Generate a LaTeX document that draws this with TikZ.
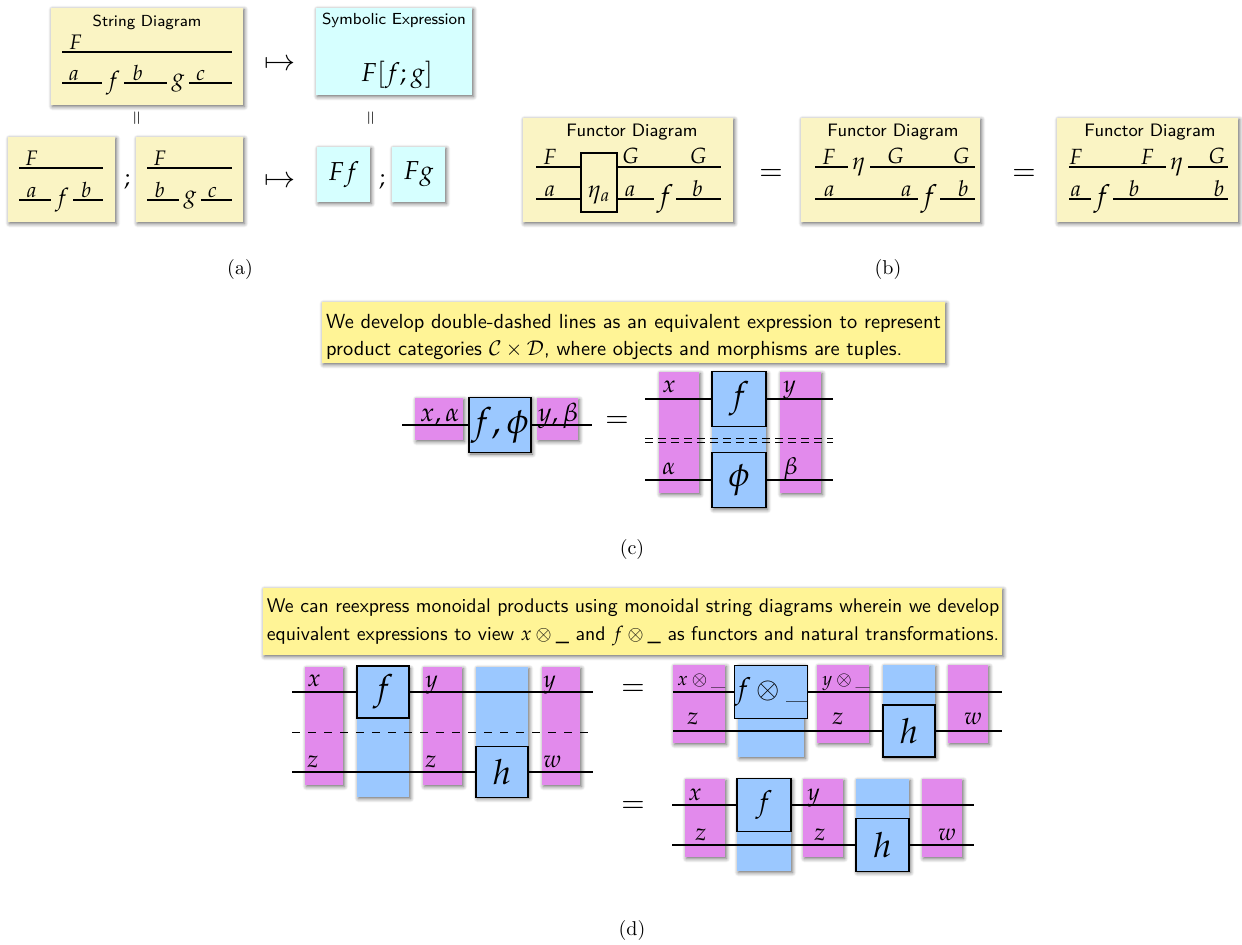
\documentclass[tikz,border=0pt]{standalone}
\usepackage{mathpazo}
\renewcommand{\rmdefault}{lmr}
\usetikzlibrary{shadows,shadows.blur}

\definecolor{panelyellow}{RGB}{250,244,196}
\definecolor{exprcyan}{RGB}{214,255,255}
\definecolor{noteyellow}{RGB}{255,244,150}
\definecolor{objpink}{RGB}{226,138,236}
\definecolor{morblue}{RGB}{155,200,255}

\tikzstyle{boxshadow} = [blur shadow={shadow xshift=.7pt, shadow yshift=-.8pt, shadow blur radius=2pt, shadow blur steps=6, shadow opacity=60}]
\tikzstyle{panel} = [rectangle, inner sep=0pt, fill=panelyellow, boxshadow]
\tikzstyle{expr} = [rectangle, inner sep=0pt, fill=exprcyan, boxshadow, font=\fontsize{13}{15}\selectfont]
\tikzstyle{note} = [rectangle, inner sep=0pt, fill=noteyellow, boxshadow]
\tikzstyle{notetext} = [inner sep=0pt, align=left]
\tikzstyle{obj} = [rectangle, inner sep=0pt, fill=objpink, boxshadow]
\tikzstyle{morcol} = [rectangle, inner sep=0pt, fill=morblue, boxshadow]
\tikzstyle{mor} = [rectangle, inner sep=0pt, fill=morblue, draw=black, line width=.75pt]
\tikzstyle{gen} = [inner sep=0pt, minimum width=11pt, font=\large]
\tikzstyle{lbl} = [above, inner sep=1pt, font=\fontsize{10.5}{12}\selectfont]
\tikzstyle{lblb} = [above, inner sep=1pt, font=\fontsize{11}{13}\selectfont]
\tikzstyle{tag} = [anchor=base, inner sep=0pt, font=\large]
\tikzstyle{wire} = [line width=.6pt]
\tikzstyle{dwire} = [line width=.5pt, dash pattern=on 4pt off 2.5pt]
\tikzstyle{heading} = [font=\sffamily\footnotesize]
\tikzstyle{op} = [font=\Large]

\begin{document}
\begin{tikzpicture}[x=.5pt, y=-.5pt]
\useasboundingbox (0,0) rectangle (1242,945);

%(a) String diagram
\node (SD) [panel, minimum width=96pt, minimum height=48.5pt] at (147,56.5) {};
\node [heading] at (147,22) {String Diagram};
\coordinate (SD-F0) at (62,52);
\coordinate (SD-F1) at (232,52);
\coordinate (SD-a) at (62,83);
\coordinate (SD-c) at (232,83);
\node (SD-f) [gen] at (113,83) {$f$};
\node (SD-g) [gen, minimum width=10.5pt] at (178,83) {$g$};
\draw [wire] (SD-F0) -- node[lbl,pos=.08] {$F$} (SD-F1);
\draw [wire] (SD-a) -- node[lbl,pos=.3] {$a$} (SD-f);
\draw [wire] (SD-f) -- node[lbl,pos=.31] {$b$} (SD-g);
\draw [wire] (SD-g) -- node[lbl,pos=.27] {$c$} (SD-c);

%Symbolic expression
\node (SE) [expr, minimum width=78pt, minimum height=43.5pt] at (394,51.5) {};
\node [heading] at (394,20) {Symbolic Expression};
\node (SE-t) [font=\fontsize{13}{15}\selectfont] at (397,75) {$F[f;g]$};
\node (map1) [op] at (280,65) {$\mapsto$};
\node [rotate=90, font=\small] at (138,118) {$=$};
\node [rotate=90, font=\small] at (372,118) {$=$};

%split into two pieces
\node (SD1) [panel, minimum width=53.5pt, minimum height=42.5pt] at (61.5,179.5) {};
\coordinate (SD1-F0) at (19,168);
\coordinate (SD1-F1) at (103,168);
\coordinate (SD1-a) at (19,200);
\coordinate (SD1-b) at (103,200);
\node (SD1-f) [gen] at (62,200) {$f$};
\draw [wire] (SD1-F0) -- node[lbl,pos=.15] {$F$} (SD1-F1);
\draw [wire] (SD1-a) -- node[lbl,pos=.4] {$a$} (SD1-f);
\draw [wire] (SD1-f) -- node[lbl,pos=.43] {$b$} (SD1-b);

\node [font=\large] at (127,182) {$;$};

\node (SD2) [panel, minimum width=53.5pt, minimum height=42.5pt] at (189.5,179.5) {};
\coordinate (SD2-F0) at (147,168);
\coordinate (SD2-F1) at (232,168);
\coordinate (SD2-b) at (147,200);
\coordinate (SD2-c) at (232,200);
\node (SD2-g) [gen, minimum width=10.5pt] at (190,200) {$g$};
\draw [wire] (SD2-F0) -- node[lbl,pos=.15] {$F$} (SD2-F1);
\draw [wire] (SD2-b) -- node[lbl,pos=.4] {$b$} (SD2-g);
\draw [wire] (SD2-g) -- node[lbl,pos=.37] {$c$} (SD2-c);

\node (map2) [op] at (280,182) {$\mapsto$};
\node (SE1) [expr, minimum width=26.5pt, minimum height=27.5pt] at (343.5,174.5) {$Ff$};
\node [font=\large] at (382,182) {$;$};
\node (SE2) [expr, minimum width=26.5pt, minimum height=27.5pt] at (418.5,174.5) {$Fg$};
\node at (240,270) {(a)};

%(b) Functor diagrams
\node (FD1) [panel, minimum width=105pt, minimum height=52pt] at (628,170) {};
\node [heading, font=\sffamily\small] at (632,132) {Functor Diagram};
\node (FD1-eta) [draw=black, line width=.6pt, minimum width=18pt, minimum height=29.5pt, inner sep=0pt] at (599,182.5) {};
\node [font=\large] at (599,195) {$\eta_a$};
\coordinate (FD1-F) at (536,167);
\coordinate (FD1-G) at (721,167);
\coordinate (FD1-a) at (536,199);
\coordinate (FD1-b) at (721,199);
\node (FD1-f) [gen, font=\Large] at (665,199) {$f$};
\draw [wire] (FD1-F) -- node[lblb,pos=.31] {$F$} (FD1-eta.west |- FD1-F);
\draw [wire] (FD1-eta.east |- FD1-G) -- node[lblb,pos=.125] {$G$} node[lblb,pos=.78] {$G$} (FD1-G);
\draw [wire] (FD1-a) -- node[lblb,pos=.31] {$a$} (FD1-eta.west |- FD1-a);
\draw [wire] (FD1-eta.east |- FD1-a) -- node[lblb,pos=.35] {$a$} (FD1-f);
\draw [wire] (FD1-f) -- node[lblb,pos=.47] {$b$} (FD1-b);

\node [op] at (771,175) {$=$};

\node (FD2) [panel, minimum width=89.5pt, minimum height=52pt] at (890.5,170) {};
\node [heading, font=\sffamily\small] at (893,132) {Functor Diagram};
\coordinate (FD2-F) at (815,167);
\coordinate (FD2-G) at (975,167);
\coordinate (FD2-a) at (815,199);
\coordinate (FD2-b) at (975,199);
\node (FD2-eta) [gen] at (859,167) {$\eta$};
\node (FD2-f) [gen, font=\Large] at (929,199) {$f$};
\draw [wire] (FD2-F) -- node[lblb,pos=.42] {$F$} (FD2-eta);
\draw [wire] (FD2-eta) -- node[lblb,pos=.24] {$G$} node[lblb,pos=.87] {$G$} (FD2-G);
\draw [wire] (FD2-a) -- node[lblb,pos=.14] {$a$} node[lblb,pos=.89] {$a$} (FD2-f);
\draw [wire] (FD2-f) -- node[lblb,pos=.66] {$b$} (FD2-b);

\node [op] at (1024,175) {$=$};

\node (FD3) [panel, minimum width=90.5pt, minimum height=52pt] at (1147.5,170) {};
\node [heading, font=\sffamily\small] at (1150,132) {Functor Diagram};
\coordinate (FD3-F) at (1069,167);
\coordinate (FD3-G) at (1228,167);
\coordinate (FD3-a) at (1069,199);
\coordinate (FD3-b) at (1228,199);
\node (FD3-eta) [gen] at (1177,167) {$\eta$};
\node (FD3-f) [gen, font=\Large] at (1102,199) {$f$};
\draw [wire] (FD3-F) -- node[lblb,pos=.07] {$F$} node[lblb,pos=.81] {$F$} (FD3-eta);
\draw [wire] (FD3-eta) -- node[lblb,pos=.72] {$G$} (FD3-G);
\draw [wire] (FD3-a) -- node[lblb,pos=.32] {$a$} (FD3-f);
\draw [wire] (FD3-f) -- node[lblb,pos=.18] {$b$} node[lblb,pos=.92] {$b$} (FD3-b);
\node at (888,270) {(b)};

%(c) Product categories
\node (NC) [note, minimum width=311.5pt, minimum height=30.5pt] at (633.5,332.5) {};
\node (NC-t) [notetext, font=\sffamily\fontsize{10.2}{13.5}\selectfont] at (633.5,337)
  {We develop double-dashed lines as an equivalent expression to represent\\
   product categories $\mathcal{C}\times\mathcal{D}$, where objects and morphisms are tuples.};

\node (C-xa) [obj, minimum width=24pt, minimum height=21pt] at (439,419) {};
\node (C-yb) [obj, minimum width=20.5pt, minimum height=21pt] at (557.5,419) {};
\node (C-fphi) [mor, boxshadow, minimum width=31pt, minimum height=27.5pt, font=\fontsize{18}{20}\selectfont] at (500,425) {$f,\phi$};
\coordinate (C-in) at (402,425);
\coordinate (C-out) at (592,425);
\draw [wire] (C-in) -- (C-fphi) -- (C-out);
\node [tag, font=\fontsize{13}{15}\selectfont] at (440,422) {$x,\alpha$};
\node [tag, font=\fontsize{13}{15}\selectfont] at (558,422) {$y,\beta$};

\node [op] at (617,422) {$=$};

\node (CR-x) [obj, minimum width=20pt, minimum height=60.5pt] at (679,432.5) {};
\node (CR-y) [obj, minimum width=20.5pt, minimum height=60.5pt] at (800.5,432.5) {};
\node (CR-col) [morcol, minimum width=27pt, minimum height=68pt] at (739,440) {};
\node (CR-f) [mor, minimum width=27pt, minimum height=27.5pt, font=\LARGE] at (739,399) {$f$};
\node (CR-phi) [mor, minimum width=27pt, minimum height=27.5pt, font=\LARGE] at (739,480) {$\phi$};
\coordinate (CR-x0) at (645,399);
\coordinate (CR-x1) at (833,399);
\coordinate (CR-a0) at (645,480);
\coordinate (CR-a1) at (833,480);
\coordinate (CR-d0) at (645,438.5);
\coordinate (CR-d1) at (833,438.5);
\coordinate (CR-e0) at (645,442.5);
\coordinate (CR-e1) at (833,442.5);
\draw [wire] (CR-x0) -- (CR-f) -- (CR-x1);
\draw [wire] (CR-a0) -- (CR-phi) -- (CR-a1);
\draw [dwire] (CR-d0) -- (CR-d1);
\draw [dwire] (CR-e0) -- (CR-e1);
\node [tag, anchor=base west] at (662,393) {$x$};
\node [tag, anchor=base west] at (662,475) {$\alpha$};
\node [tag, anchor=base west] at (783,393) {$y$};
\node [tag, anchor=base west] at (783,475) {$\beta$};
\node at (632,550) {(c)};

%(d) Monoidal products
\node (ND) [note, minimum width=369.5pt, minimum height=33.5pt] at (632.5,621.5) {};
\node (ND-t) [notetext, font=\sffamily\fontsize{9.9}{14}\selectfont] at (633,622)
  {We can reexpress monoidal products using monoidal string diagrams wherein we develop\\
   equivalent expressions to view $x\otimes\_$ and $f\otimes\_$ as functors and natural transformations.};

\node (DL-1) [obj, minimum width=19pt, minimum height=59pt] at (324,726) {};
\node (DL-2) [morcol, minimum width=26pt, minimum height=65pt] at (383,732) {};
\node (DL-3) [obj, minimum width=19.5pt, minimum height=59pt] at (442.5,726) {};
\node (DL-4) [morcol, minimum width=26pt, minimum height=65pt] at (502,732) {};
\node (DL-5) [obj, minimum width=19pt, minimum height=59pt] at (561,726) {};
\node (DL-f) [mor, minimum width=26pt, minimum height=26pt, font=\LARGE] at (383,692) {$f$};
\node (DL-h) [mor, minimum width=26pt, minimum height=25.5pt, font=\LARGE] at (502,772) {$h$};
\coordinate (DL-u0) at (292,692);
\coordinate (DL-u1) at (593,692);
\coordinate (DL-l0) at (292,772);
\coordinate (DL-l1) at (593,772);
\coordinate (DL-d0) at (292,732);
\coordinate (DL-d1) at (593,732);
\draw [wire] (DL-u0) -- (DL-f) -- (DL-u1);
\draw [wire] (DL-l0) -- (DL-h) -- (DL-l1);
\draw [line width=.45pt, dash pattern=on 4pt off 4pt] (DL-d0) -- (DL-d1);
\node [tag, anchor=base west] at (307,687) {$x$};
\node [tag, anchor=base west] at (307,768) {$z$};
\node [tag, anchor=base west] at (425,688) {$y$};
\node [tag, anchor=base west] at (425,768) {$z$};
\node [tag, anchor=base west] at (543,688) {$y$};
\node [tag, anchor=base west] at (543,768) {$w$};

\node [op] at (633,690) {$=$};

\node (R1-1) [obj, minimum width=26pt, minimum height=39pt] at (699,704) {};
\node (R1-2) [morcol, minimum width=33pt, minimum height=46pt] at (771,711) {};
\node (R1-3) [obj, minimum width=26pt, minimum height=39pt] at (843,704) {};
\node (R1-4) [morcol, minimum width=26pt, minimum height=46pt] at (909,711) {};
\node (R1-5) [obj, minimum width=20pt, minimum height=39pt] at (968,704) {};
\node (R1-f) [mor, minimum width=33pt, minimum height=26.5pt, font=\Large] at (771,692) {$f\otimes\_$};
\node (R1-h) [mor, minimum width=26pt, minimum height=26pt, font=\LARGE] at (909,731) {$h$};
\coordinate (R1-u0) at (673,692);
\coordinate (R1-u1) at (1002,692);
\coordinate (R1-l0) at (673,731);
\coordinate (R1-l1) at (1002,731);
\draw [wire] (R1-u0) -- (R1-f) -- (R1-u1);
\draw [wire] (R1-l0) -- (R1-h) -- (R1-l1);
\node [tag, anchor=base west, font=\fontsize{9.5}{11}\selectfont] at (677,686) {$x\otimes\_$};
\node [tag] at (693,725) {$z$};
\node [tag, anchor=base west, font=\fontsize{9.5}{11}\selectfont] at (822,686) {$y\otimes\_$};
\node [tag] at (838,725) {$z$};
\node [tag] at (973,725) {$w$};

\node [op] at (633,807) {$=$};

\node (R2-1) [obj, minimum width=20pt, minimum height=39pt] at (705,818) {};
\node (R2-2) [morcol, minimum width=27pt, minimum height=46pt] at (764,825) {};
\node (R2-3) [obj, minimum width=20pt, minimum height=39pt] at (823,818) {};
\node (R2-4) [morcol, minimum width=26.5pt, minimum height=46pt] at (882.5,825) {};
\node (R2-5) [obj, minimum width=20pt, minimum height=39pt] at (942,818) {};
\node (R2-f) [mor, minimum width=27pt, minimum height=26.5pt, font=\Large] at (764,805) {$f$};
\node (R2-h) [mor, minimum width=26.5pt, minimum height=26.5pt, font=\LARGE] at (882.5,845) {$h$};
\coordinate (R2-u0) at (672,805);
\coordinate (R2-u1) at (974,805);
\coordinate (R2-l0) at (672,845);
\coordinate (R2-l1) at (974,845);
\draw [wire] (R2-u0) -- (R2-f) -- (R2-u1);
\draw [wire] (R2-l0) -- (R2-h) -- (R2-l1);
\node [tag, anchor=base west] at (688,800) {$x$};
\node [tag] at (701,840) {$z$};
\node [tag, anchor=base west] at (807,800) {$y$};
\node [tag] at (820,840) {$z$};
\node [tag] at (947,840) {$w$};
\node at (632,930) {(d)};

\end{tikzpicture}
\end{document}
